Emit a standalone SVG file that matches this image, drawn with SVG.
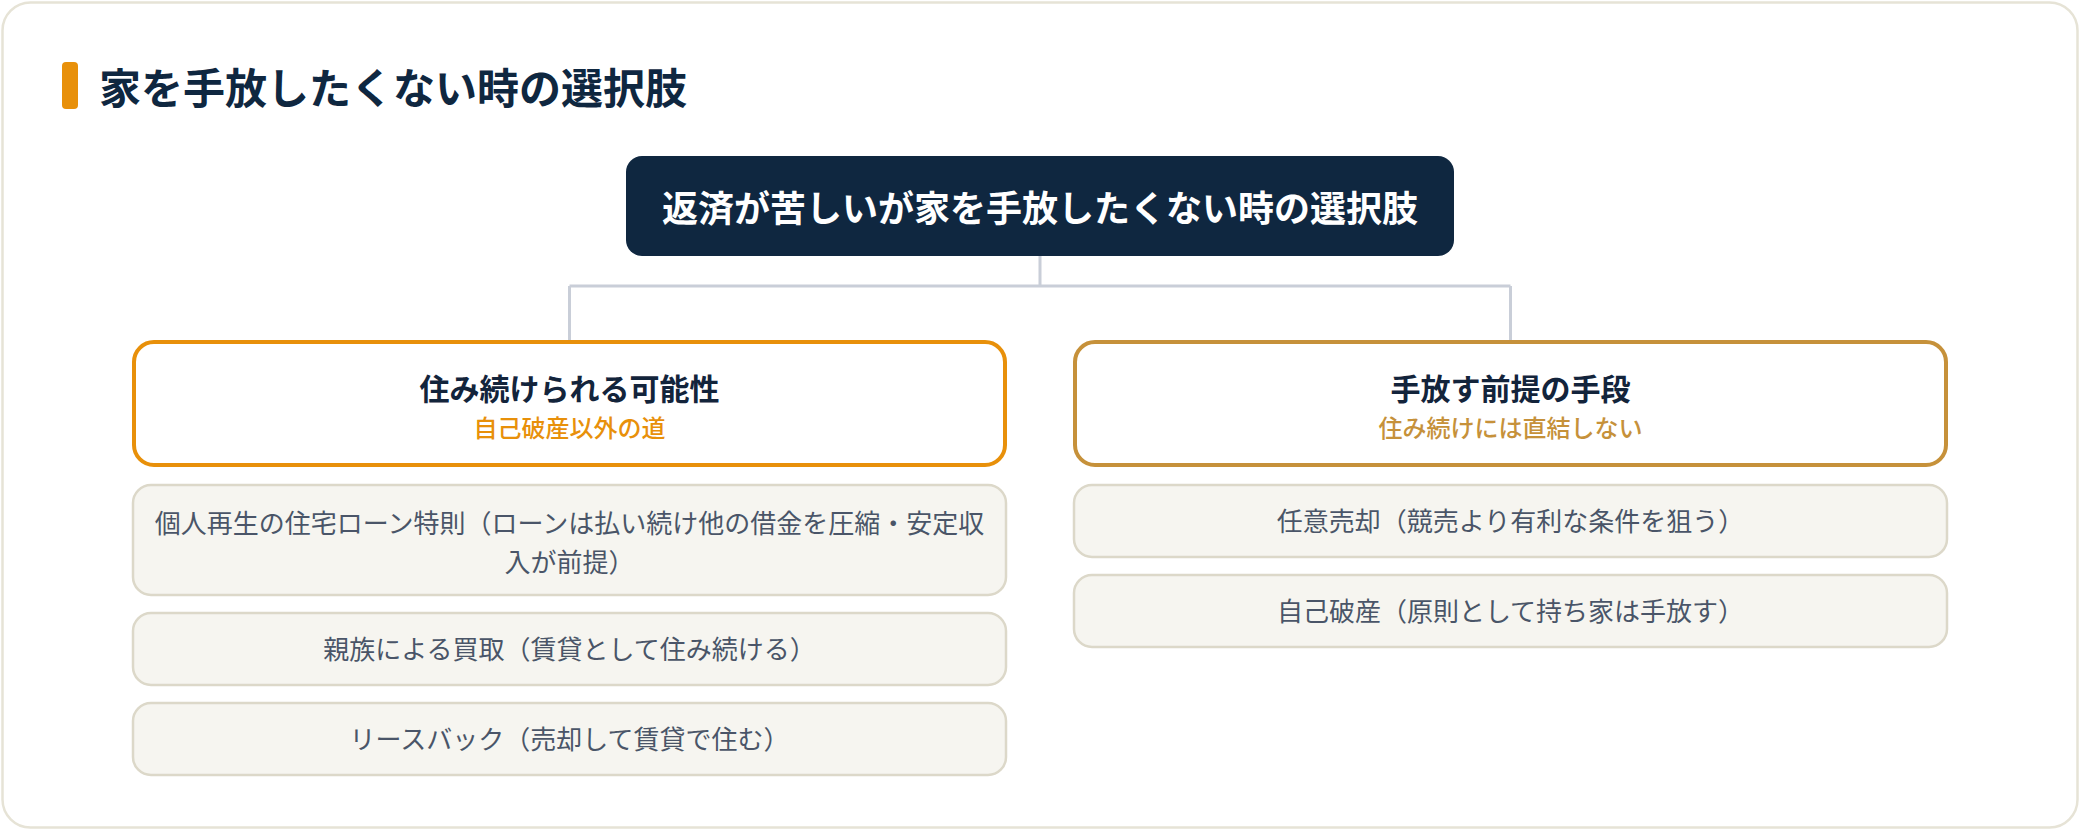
<svg xmlns="http://www.w3.org/2000/svg" width="2080" height="830" viewBox="0 0 2080 830">
  <defs>
    <style>
      .jp { font-family: "Noto Sans CJK JP", "Noto Sans", "Liberation Sans", sans-serif; }
      .h1 { font-size: 42px; font-weight: 700; fill: #0f2740; }
      .root-t { font-size: 36px; font-weight: 700; fill: #ffffff; }
      .br-t { font-size: 30px; font-weight: 700; fill: #13243b; }
      .br-s { font-size: 24px; font-weight: 500; }
      .it { font-size: 26px; font-weight: 400; fill: #4a5568; }
      .item { fill: #f6f5f0; stroke: #dcd8c9; stroke-width: 2.5; }
      .conn { fill: none; stroke: #c9ced8; stroke-width: 3; }
    </style>
  </defs>
  <rect x="0" y="0" width="2080" height="830" fill="#ffffff"/>
  <rect id="card" x="2.5" y="2.5" width="2075" height="825" rx="28" fill="#ffffff" stroke="#e6e3d6" stroke-width="2.5"/>

  <g id="heading">
    <rect x="62" y="62" width="16" height="47" rx="4" fill="#e8900a"/>
    <text class="jp h1" x="99" y="104">家を手放したくない時の選択肢</text>
  </g>

  <g id="connectors">
    <path class="conn" d="M1040 256 V286 M569.5 286 H1510.5 M569.5 286 V340 M1510.5 286 V340"/>
  </g>

  <g id="root">
    <rect x="626" y="156" width="828" height="100" rx="16" fill="#0f2740"/>
    <text class="jp root-t" x="1040" y="221.5" text-anchor="middle">返済が苦しいが家を手放したくない時の選択肢</text>
  </g>

  <g id="branch-stay">
    <rect x="134" y="342" width="871" height="123" rx="20" fill="#ffffff" stroke="#e8900a" stroke-width="4"/>
    <text class="jp br-t" x="569.5" y="400" text-anchor="middle">住み続けられる可能性</text>
    <text class="jp br-s" x="569.5" y="436.5" text-anchor="middle" fill="#e8900a">自己破産以外の道</text>
  </g>

  <g id="branch-release">
    <rect x="1075" y="342" width="871" height="123" rx="20" fill="#ffffff" stroke="#c6913a" stroke-width="4"/>
    <text class="jp br-t" x="1510.5" y="400" text-anchor="middle">手放す前提の手段</text>
    <text class="jp br-s" x="1510.5" y="436.5" text-anchor="middle" fill="#c6913a">住み続けには直結しない</text>
  </g>

  <g id="item-rehab">
    <rect class="item" x="133" y="485" width="873" height="110" rx="18"/>
    <text class="jp it" x="569.5" y="532.5" text-anchor="middle">個人再生の住宅ローン特則（ローンは払い続け他の借金を圧縮・安定収</text>
    <text class="jp it" x="569.5" y="571.5" text-anchor="middle">入が前提）</text>
  </g>

  <g id="item-family">
    <rect class="item" x="133" y="613" width="873" height="72" rx="18"/>
    <text class="jp it" x="569.5" y="659" text-anchor="middle">親族による買取（賃貸として住み続ける）</text>
  </g>

  <g id="item-leaseback">
    <rect class="item" x="133" y="703" width="873" height="72" rx="18"/>
    <text class="jp it" x="569.5" y="749" text-anchor="middle">リースバック（売却して賃貸で住む）</text>
  </g>

  <g id="item-voluntary">
    <rect class="item" x="1074" y="485" width="873" height="72" rx="18"/>
    <text class="jp it" x="1510.5" y="531" text-anchor="middle">任意売却（競売より有利な条件を狙う）</text>
  </g>

  <g id="item-bankruptcy">
    <rect class="item" x="1074" y="575" width="873" height="72" rx="18"/>
    <text class="jp it" x="1510.5" y="621" text-anchor="middle">自己破産（原則として持ち家は手放す）</text>
  </g>
</svg>
